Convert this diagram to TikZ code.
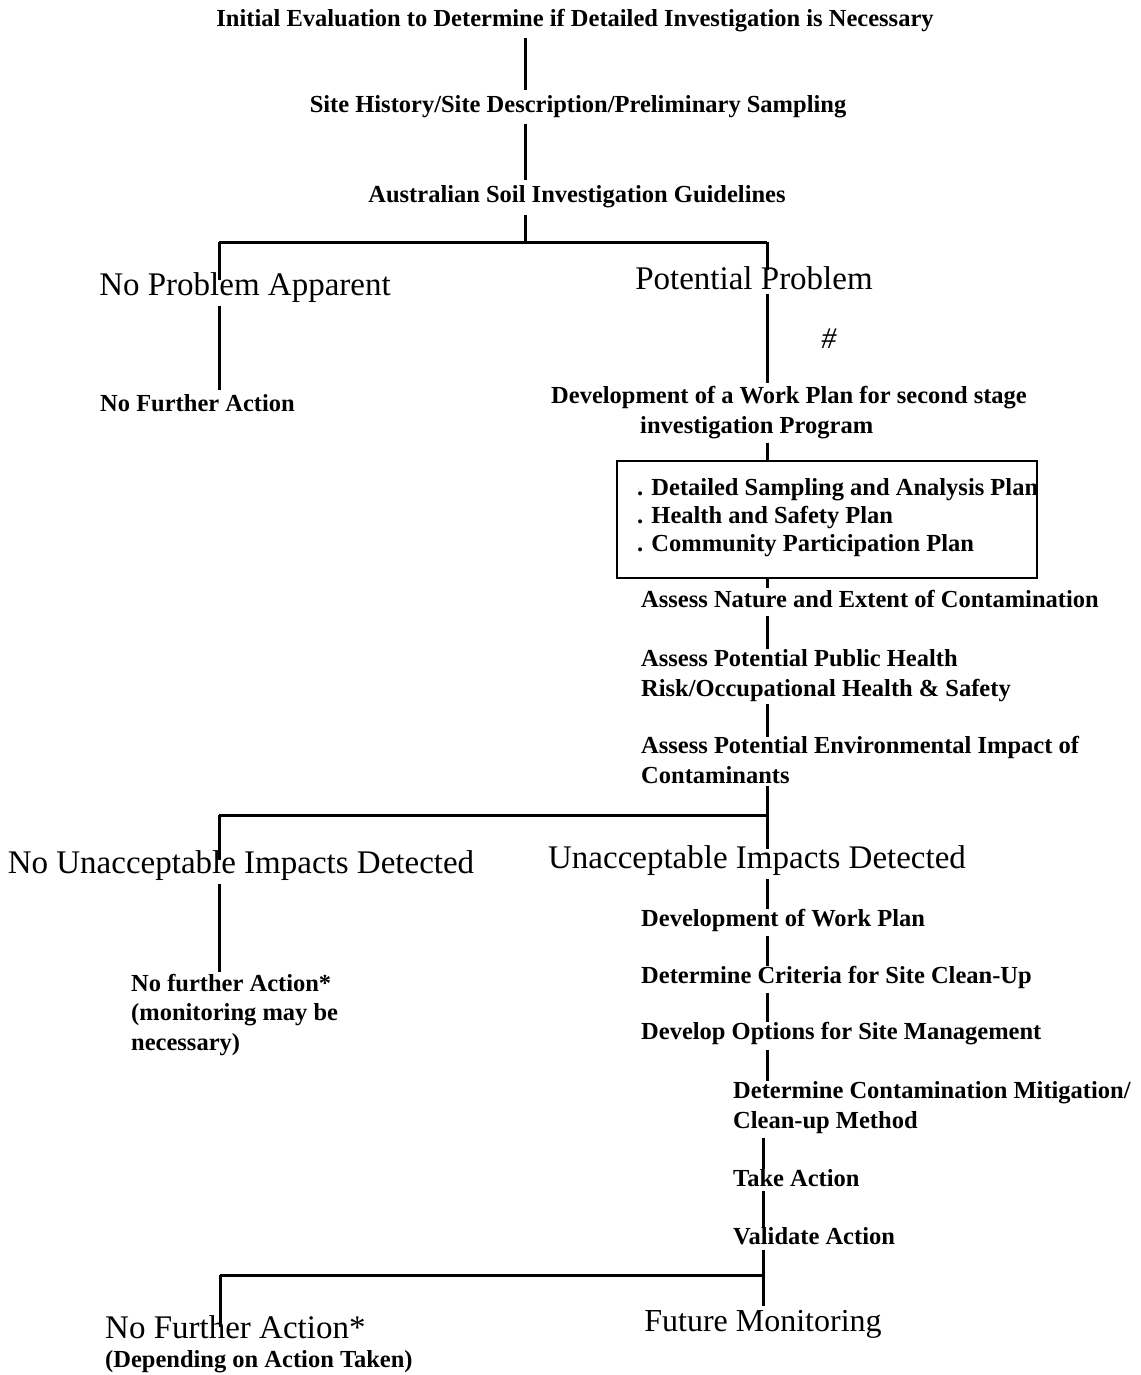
\documentclass[tikz,border=0pt]{standalone}
\usepackage{fontspec}
\setmainfont{Liberation Serif}
\begin{document}
\begin{tikzpicture}[x=1pt,y=-1pt,
  sm/.style={font=\fontsize{24.5}{29.5}\selectfont\bfseries, inner sep=0pt, align=left},
  bg/.style={font=\fontsize{33}{38}\selectfont, inner sep=0pt},
  ln/.style={line width=3pt},
  boxst/.style={draw, line width=2.6pt, inner sep=0pt, minimum width=420pt, minimum height=117pt}]
\useasboundingbox (0,0) rectangle (1140,1375);
% junction coordinates
\coordinate (xa) at (525,0);
\coordinate (xl) at (219,0);
\coordinate (xr) at (767,0);
\coordinate (xb) at (763,0);
\coordinate (j1) at (525,242);
\coordinate (j1l) at (219,242);
\coordinate (j1r) at (767,242);
\coordinate (j2l) at (219,815);
\coordinate (j2r) at (767,815);
\coordinate (j3l) at (220,1275);
\coordinate (j3r) at (763,1275);
% nodes
\node[sm, anchor=base] (n1) at (575,27) {Initial Evaluation to Determine if Detailed Investigation is Necessary};
\node[sm, anchor=base] (n2) at (578,113) {Site History/Site Description/Preliminary Sampling};
\node[sm, anchor=base] (n3) at (577,203) {Australian Soil Investigation Guidelines};
\node[bg, anchor=base] (npa) at (245,295) {No Problem Apparent};
\node[bg, anchor=base] (pp) at (754,289) {Potential Problem};
\node[sm, anchor=base, font=\fontsize{30}{34}\selectfont] (hash) at (829,348) {\textit{\#}};
\node[sm, anchor=base west] (nfa1) at (100,411) {No Further Action};
\node[sm, anchor=base west] (dev) at (551,433) {Development of a Work Plan for second stage\\\hspace*{89pt}investigation Program};
\node[boxst] (box) at (827,519.5) {};
\node[sm, anchor=base west, font=\fontsize{24.5}{28}\selectfont\bfseries] (plans) at (637,551) {. Detailed Sampling and Analysis Plan\\. Health and Safety Plan\\. Community Participation Plan};
\node[sm, anchor=base west] (an1) at (641,607) {Assess Nature and Extent of Contamination};
\node[sm, anchor=base west] (an2) at (641,696) {Assess Potential Public Health\\Risk/Occupational Health \& Safety};
\node[sm, anchor=base west] (an3) at (641,783) {Assess Potential Environmental Impact of\\Contaminants};
\node[bg, anchor=base] (nui) at (241,873) {No Unacceptable Impacts Detected};
\node[bg, anchor=base] (ui) at (757,868) {Unacceptable Impacts Detected};
\node[sm, anchor=base west] (nfa2) at (131,1050) {No further Action*\\(monitoring may be\\necessary)};
\node[sm, anchor=base west] (dwp) at (641,926) {Development of Work Plan};
\node[sm, anchor=base west] (dcr) at (641,983) {Determine Criteria for Site Clean-Up};
\node[sm, anchor=base west] (dop) at (641,1039) {Develop Options for Site Management};
\node[sm, anchor=base west] (dcm) at (733,1128) {Determine Contamination Mitigation/\\Clean-up Method};
\node[sm, anchor=base west] (ta) at (733,1186) {Take Action};
\node[sm, anchor=base west] (va) at (733,1244) {Validate Action};
\node[bg, anchor=base west] (nfa3) at (105,1338) {No Further Action*};
\node[sm, anchor=base west] (dep) at (105,1367) {(Depending on Action Taken)};
\node[bg, anchor=base, font=\fontsize{32}{36}\selectfont] (fm) at (763,1331) {Future Monitoring};
% connectors
\draw[ln] ([yshift=-5pt]n1.south -| xa) -- ([yshift=6pt]n2.north -| xa);
\draw[ln] ([yshift=-5pt]n2.south -| xa) -- ([yshift=6pt]n3.north -| xa);
\draw[ln] ([yshift=-6pt]n3.south -| xa) -- (j1);
\draw[ln] (j1l) -- (j1r);
\draw[ln] (j1l) -- ([yshift=-8pt]npa.north -| xl);
\draw[ln] ([yshift=-4pt]npa.south -| xl) -- ([yshift=4pt]nfa1.north -| xl);
\draw[ln] (j1r) -- ([yshift=-4pt]pp.north -| xr);
\draw[ln] ([yshift=-4pt]pp.south -| xr) -- ([yshift=3pt]dev.north -| xr);
\draw[ln] ([yshift=-4pt]dev.south -| xr) -- (box.north -| xr);
\draw[ln] (box.south -| xr) -- ([yshift=2pt]an1.north -| xr);
\draw[ln] ([yshift=-8pt]an1.south -| xr) -- ([yshift=0pt]an2.north -| xr);
\draw[ln] ([yshift=-3pt]an2.south -| xr) -- ([yshift=-1pt]an3.north -| xr);
\draw[ln] ([yshift=-3pt]an3.south -| xr) -- (j2r);
\draw[ln] (j2l) -- (j2r);
\draw[ln] (j2r) -- ([yshift=-4pt]ui.north -| xr);
\draw[ln] (j2l) -- ([yshift=-10pt]nui.north -| xl);
\draw[ln] ([yshift=-4pt]nui.south -| xl) -- ([yshift=2pt]nfa2.north -| xl);
\draw[ln] ([yshift=-4pt]ui.south -| xr) -- (dwp.north -| xr);
\draw[ln] ([yshift=-5pt]dwp.south -| xr) -- ([yshift=0pt]dcr.north -| xr);
\draw[ln] ([yshift=-5pt]dcr.south -| xr) -- ([yshift=0pt]dop.north -| xr);
\draw[ln] ([yshift=-5pt]dop.south -| xr) -- ([yshift=0pt]dcm.north -| xr);
\draw[ln] ([yshift=-5pt]dcm.south -| xb) -- ([yshift=0pt]ta.north -| xb);
\draw[ln] ([yshift=-5pt]ta.south -| xb) -- ([yshift=0pt]va.north -| xb);
\draw[ln] ([yshift=-5pt]va.south -| xb) -- (j3r);
\draw[ln] (j3r) -- ([yshift=4pt]fm.north -| xb);
\draw[ln] (j3l) -- (j3r);
\draw[ln] (j3l) -- ([yshift=-12pt]nfa3.north -| j3l);
\end{tikzpicture}
\end{document}
